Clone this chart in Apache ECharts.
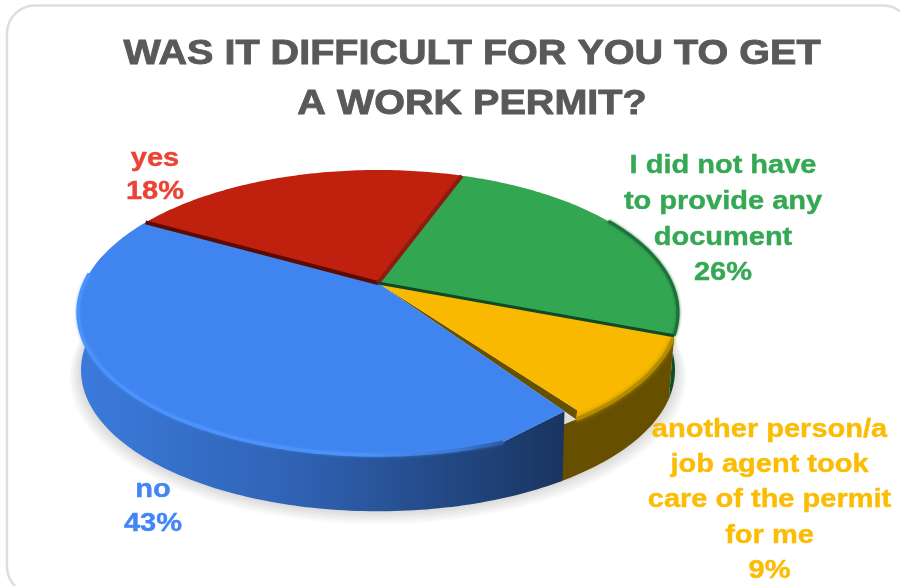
<!DOCTYPE html>
<html>
<head>
<meta charset="utf-8">
<style>
  html, body { margin: 0; padding: 0; background: #fff; }
  #chart { width: 900px; height: 586px; }
</style>
</head>
<body>
<div id="chart"></div>
<script src="https://cdn.jsdelivr.net/npm/echarts@6/dist/echarts.min.js"></script>
<script>
const titleText = 'WAS IT DIFFICULT FOR YOU TO GET\nA WORK PERMIT?';
const categories = ['yes', 'I did not have\nto provide any\ndocument', 'another person/a\njob agent took\ncare of the permit\nfor me', 'no'];
// printed labels; the yes slice is drawn bigger than its label says
const percentLabels = ['18%', '26%', '9%', '43%'];
const sliceShares = [22.4, 25.3, 9.7, 42.6];
const sliceColors = ['#c0210f', '#33a652', '#f9b900', '#4084f0'];
const edgeColors = ['#5c0a02', '#8f1a10', '#0f4a24', '#665000'];
const labelColors = ['#ea4335', '#34a853', '#fbbc04', '#4285f4'];
const firstAngle = 209.3;

// projection of the tilted disc
const cx = 378, cy = 283, R = 293.5, S = 136.4, K = 0.207, depth = 58, bottomScale = 0.99;

function topPoint(deg) {
  const t = deg * Math.PI / 180, d = 1 - K * Math.sin(t);
  return [cx + R * Math.cos(t) / d, cy + S * Math.sin(t) / d];
}
function bottomPoint(deg) {
  const t = deg * Math.PI / 180, d = 1 - K * Math.sin(t);
  return [cx + bottomScale * R * Math.cos(t) / d, cy + depth + bottomScale * S * Math.sin(t) / d];
}
function toward(p, f) {
  return [cx + (p[0] - cx) * f, cy + (p[1] - cy) * f];
}
function arc(fn, a, b) {
  const pts = [];
  const n = Math.max(2, Math.ceil(Math.abs(b - a)));
  for (let i = 0; i <= n; i++) pts.push(fn(a + (b - a) * i / n));
  return pts;
}

const total = sliceShares.reduce((s, v) => s + v, 0);
let running = firstAngle;
const sliceData = sliceShares.map((v, i) => {
  const from = running;
  running += v / total * 360;
  return { name: categories[i], value: [from, running, i] };
});

function horizontal(x0, x1, stops) {
  return new echarts.graphic.LinearGradient(x0, 0, x1, 0, stops, true);
}

function renderSlice(params, api) {
  const a = api.value(0), b = api.value(1), i = api.value(2);
  const children = [];

  // soft shadow under the whole disc, built from a few faint growing layers
  if (params.dataIndex === 0) {
    for (let k = 7; k >= 1; k--) {
      const grow = 1 + k * 0.0055;
      const pts = arc(bottomPoint, 340, 560).map(p => [
        cx + (p[0] - cx) * grow,
        cy + depth + (p[1] - cy - depth) * grow + k * 0.9
      ]);
      children.push({
        type: 'polygon',
        z2: 0,
        shape: { points: pts },
        style: { fill: 'rgba(0,0,0,0.018)' }
      });
    }
  }

  // front walls
  if (i === 1) {
    children.push({
      type: 'polygon',
      z2: 1,
      shape: { points: arc(topPoint, 348, b).concat(arc(bottomPoint, b + 2, 348)) },
      style: { fill: '#0f4d26' }
    });
  }
  if (i === 2) {
    children.push({
      type: 'polygon',
      z2: 2,
      shape: { points: arc(topPoint, a, b + 3).concat(arc(bottomPoint, b + 3, a + 2)) },
      style: { fill: '#665000' }
    });
    // cut face of this slice, seen past the next one
    children.push({
      type: 'polygon',
      z2: 4,
      shape: { points: [[cx, cy], toward(topPoint(b - 2), 0.96), topPoint(b), toward(topPoint(b), 0.94)] },
      style: { fill: '#665000' }
    });
  }
  if (i === 3) {
    const corner = toward(topPoint(a), 0.94);
    children.push({
      type: 'polygon',
      z2: 3,
      shape: { points: [corner].concat(arc(topPoint, a + 14, 552), arc(bottomPoint, 552, a + 2.5)) },
      style: {
        fill: horizontal(85, 565, [
          { offset: 0, color: '#3b7adb' },
          { offset: 0.45, color: '#2f62b3' },
          { offset: 1, color: '#19345f' }
        ])
      }
    });
  }

  // top faces
  let topPts = [[cx, cy]].concat(arc(topPoint, a, b));
  if (i === 2) {
    topPts = [[cx, cy]].concat(arc(topPoint, a, b), [toward(topPoint(b - 2), 0.96)]);
  }
  if (i === 3) {
    topPts = [[cx, cy], toward(topPoint(a), 0.94)].concat(arc(topPoint, a + 14, b));
  }
  children.push({
    type: 'polygon',
    z2: 5,
    shape: { points: topPts },
    style: { fill: sliceColors[i] }
  });

  // bevel along the rim
  if (i === 3) {
    children.push({
      type: 'polyline',
      z2: 6,
      shape: { points: arc(topPoint, a + 14, 544) },
      style: {
        fill: null,
        lineWidth: 3.5,
        stroke: horizontal(85, 510, [
          { offset: 0, color: '#4b93fb' },
          { offset: 0.65, color: '#4b93fb' },
          { offset: 0.88, color: '#3a78d8' },
          { offset: 1, color: '#2a569f' }
        ]),
        shadowBlur: 3,
        shadowColor: 'rgba(75,147,251,0.6)'
      }
    });
  }
  if (i === 2) {
    children.push({
      type: 'polyline',
      z2: 6,
      shape: { points: arc(topPoint, a + 1, b) },
      style: { fill: null, lineWidth: 3.5, stroke: '#b58c00', shadowBlur: 4, shadowColor: '#b58c00' }
    });
  }
  if (i === 1) {
    children.push({
      type: 'polyline',
      z2: 6,
      shape: { points: arc(topPoint, 330, b) },
      style: { fill: null, lineWidth: 3, stroke: '#1c7038', shadowBlur: 3, shadowColor: '#1c7038' }
    });
  }

  // dark line where the slice meets the previous one
  if (i < 3) {
    children.push({
      type: 'polyline',
      z2: 7,
      shape: { points: [[cx, cy], topPoint(a)] },
      style: { fill: null, stroke: edgeColors[i], lineWidth: i === 2 ? 3 : 4 }
    });
  }
  return { type: 'group', children: children };
}

const labelPos = [[155, 175.5], [723, 220], [769.5, 500.5], [153, 507]];
const labelLines = [33, 35.7, 35.2, 34];

const chart = echarts.init(document.getElementById('chart'));
chart.setOption({
  backgroundColor: '#fff',
  animation: false,
  graphic: [
    {
      type: 'rect',
      z: -1,
      shape: { x: 7, y: 5.5, width: 904, height: 589, r: 28 },
      style: { fill: '#fff', stroke: '#dedede', lineWidth: 2.5 }
    },
    {
      type: 'text',
      x: 472,
      y: 79.5,
      scaleX: 1.13,
      z: 10,
      style: {
        text: titleText,
        fill: '#595959',
        stroke: '#595959',
        lineWidth: 0.9,
        font: 'bold 35px "Liberation Sans"',
        lineHeight: 50,
        align: 'center',
        verticalAlign: 'middle'
      }
    }
  ].concat(categories.map((c, i) => ({
    type: 'text',
    x: labelPos[i][0],
    y: labelPos[i][1],
    scaleX: 1.16,
    z: 10,
    style: {
      text: c + '\n' + percentLabels[i],
      fill: labelColors[i],
      stroke: labelColors[i],
      lineWidth: 0.4,
      font: 'bold 25px "Liberation Sans"',
      lineHeight: labelLines[i],
      align: 'center',
      verticalAlign: 'middle'
    }
  }))),
  series: [
    {
      type: 'custom',
      coordinateSystem: 'none',
      renderItem: renderSlice,
      data: sliceData,
      silent: true
    }
  ]
});
</script>
</body>
</html>
